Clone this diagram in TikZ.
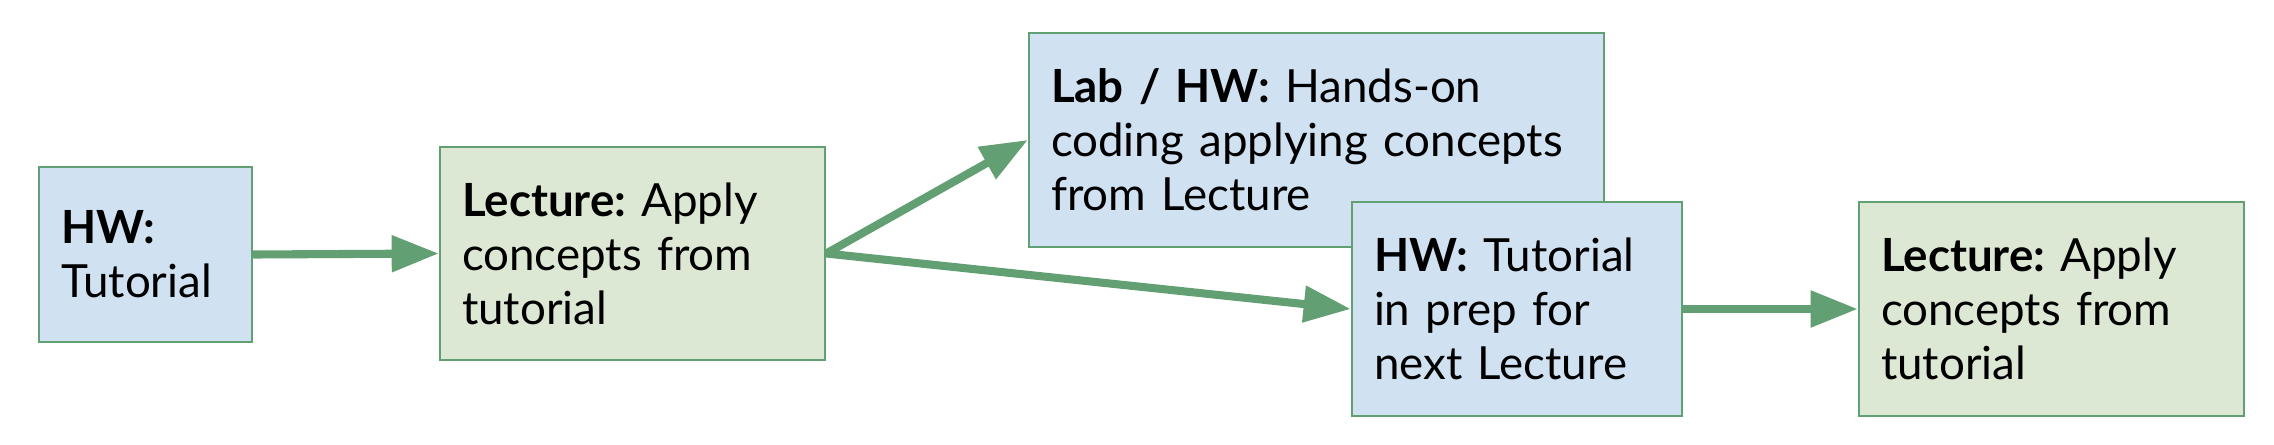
\documentclass[tikz,border=0pt]{standalone}
\usepackage{fontspec}
\setmainfont{Lato}
\usepackage{tikz}
\usetikzlibrary{positioning,arrows.meta}
\usepackage{xcolor}
\definecolor{hwblue}{HTML}{D0E1F2}
\definecolor{lecgreen}{HTML}{DCE8D4}
\definecolor{flowgreen}{HTML}{62A073}
\frenchspacing

\begin{document}
\begin{tikzpicture}[
    box/.style={draw=flowgreen, line width=0.7pt, align=left, inner xsep=0.22cm, inner ysep=0pt,
        font=\fontsize{13}{15.4}\selectfont},
    hwbox/.style={box, fill=hwblue},
    lecbox/.style={box, fill=lecgreen},
    flow/.style={draw=flowgreen, line width=2.3pt, -{Triangle[length=13.4pt, width=10pt]}}
]
    \useasboundingbox (0, 0) rectangle (22.74, 4.44);

    \node[hwbox, text width=1.69cm, minimum height=1.75cm] (hw) at (1.455, 1.895) {\textbf{HW:}\\Tutorial};
    \node[lecbox, text width=3.41cm, minimum height=2.13cm] (lecture) at (6.325, 1.905) {\textbf{Lecture:} Apply\\concepts from\\tutorial};
    \node[hwbox, text width=5.31cm, minimum height=2.14cm] (lab) at (13.165, 3.04) {\textbf{Lab / HW:} Hands-on\\coding applying concepts\\from Lecture};
    \node[hwbox, text width=2.86cm, minimum height=2.14cm] (prep) at (15.17, 1.35) {\textbf{HW:} Tutorial\\in prep for\\next Lecture};
    \node[lecbox, text width=3.41cm, minimum height=2.14cm] (next) at (20.515, 1.35) {\textbf{Lecture:} Apply\\concepts from\\tutorial};

    \draw[flow] (hw.east) -- (lecture.west);
    \draw[flow] (lecture.east) -- (lab.west);
    \draw[flow] (lecture.east) -- (prep.west);
    \draw[flow] (prep.east) -- (next.west);
\end{tikzpicture}
\end{document}
